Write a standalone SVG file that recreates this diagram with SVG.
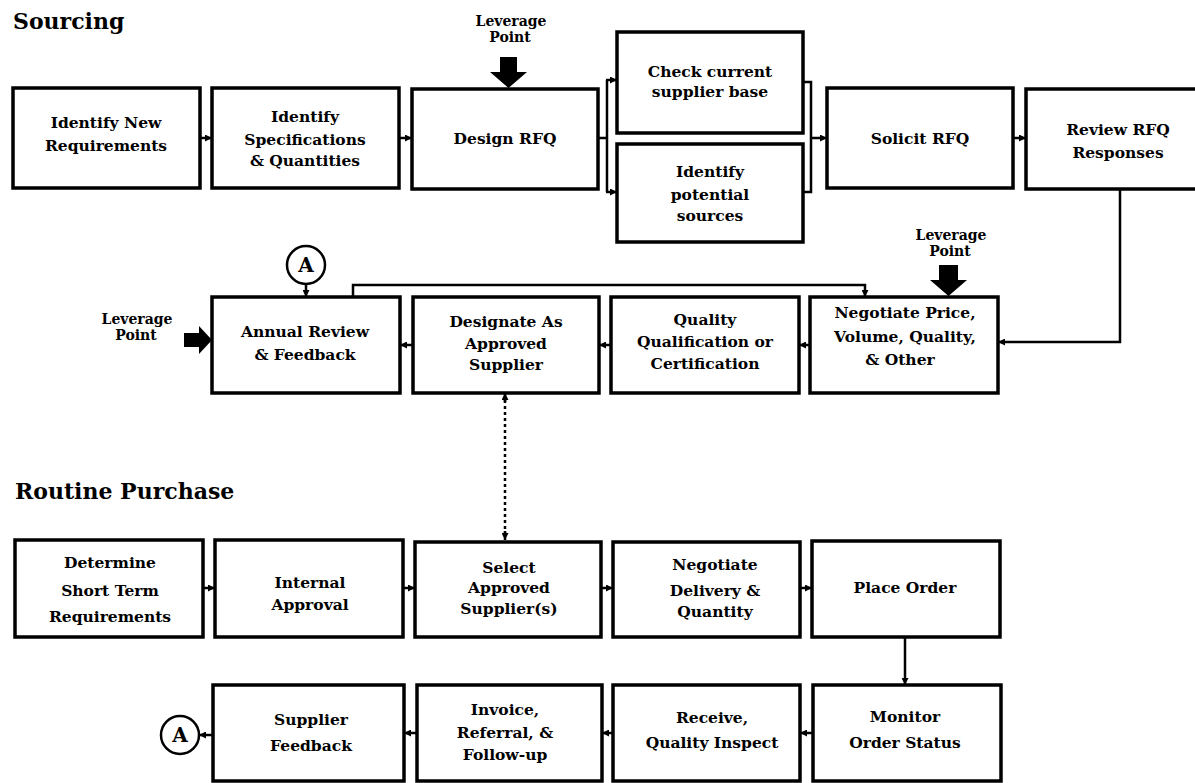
<svg xmlns="http://www.w3.org/2000/svg" width="1195" height="783" viewBox="0 0 1195 783">
<style>
.box{fill:#fff;stroke:#000;stroke-width:3.5}
.t{font-family:"DejaVu Serif",serif;font-weight:bold;font-size:15.5px;text-anchor:middle;fill:#000}
.lv{font-family:"DejaVu Serif",serif;font-weight:bold;font-size:14px;text-anchor:middle;fill:#000}
.h{font-family:"DejaVu Serif",serif;font-weight:bold;font-size:22px;fill:#000}
.c{stroke:#000;stroke-width:2.5;fill:none}
.d{stroke:#000;stroke-width:2.5;fill:none;stroke-dasharray:3 3}
.ci{fill:#fff;stroke:#000;stroke-width:2.5}
.ca{font-family:"DejaVu Serif",serif;font-weight:bold;font-size:20px;text-anchor:middle;fill:#000}
.lev{fill:#000}
</style>
<defs>
<marker id="ah" markerUnits="userSpaceOnUse" markerWidth="7" markerHeight="7" refX="7" refY="3.5" orient="auto">
<path d="M0,0 L7,3.5 L0,7 z" fill="#000"/>
</marker>
</defs>
<rect width="1195" height="783" fill="#fff"/>
<text class="h" x="13" y="29">Sourcing</text>
<text class="h" x="15" y="499">Routine Purchase</text>

<g id="connectors">
<path class="c" d="M200,138 H212" marker-end="url(#ah)"/>
<path class="c" d="M399,138 H412" marker-end="url(#ah)"/>
<path class="c" d="M598,138 H607 M607,80 V192"/>
<path class="c" d="M606,80 H617" marker-end="url(#ah)"/>
<path class="c" d="M606,192 H617" marker-end="url(#ah)"/>
<path class="c" d="M803,82 H811 V192 H803"/>
<path class="c" d="M811,138 H827" marker-end="url(#ah)"/>
<path class="c" d="M1013,138 H1026" marker-end="url(#ah)"/>
<path class="c" d="M1120,189 V342 H998" marker-end="url(#ah)"/>
<path class="c" d="M810,345 H799" marker-end="url(#ah)"/>
<path class="c" d="M611,345 H599" marker-end="url(#ah)"/>
<path class="c" d="M413,345 H400" marker-end="url(#ah)"/>
<path class="c" d="M353,297 V285 H865 V297" marker-end="url(#ah)"/>
<path class="c" d="M306,284 V297" marker-end="url(#ah)"/>
<path class="d" d="M505,400 V533"/>
<path class="c" d="M505,402 V393" marker-end="url(#ah)"/>
<path class="c" d="M505,531 V540" marker-end="url(#ah)"/>
<path class="c" d="M203,588 H215" marker-end="url(#ah)"/>
<path class="c" d="M403,588 H415" marker-end="url(#ah)"/>
<path class="c" d="M601,588 H613" marker-end="url(#ah)"/>
<path class="c" d="M800,588 H812" marker-end="url(#ah)"/>
<path class="c" d="M905,637 V685" marker-end="url(#ah)"/>
<path class="c" d="M813,733 H800" marker-end="url(#ah)"/>
<path class="c" d="M613,733 H602" marker-end="url(#ah)"/>
<path class="c" d="M417,733 H404" marker-end="url(#ah)"/>
<path class="c" d="M213,735 H199" marker-end="url(#ah)"/>
</g>

<g id="lev-design">
<text class="lv" x="511" y="26">Leverage</text>
<text class="lv" x="510" y="42">Point</text>
<path class="lev" d="M500,57 H517 V72 H527 L508.5,88 L490,72 H500 Z"/>
</g>
<g id="lev-negotiate">
<text class="lv" x="951" y="240">Leverage</text>
<text class="lv" x="950" y="256">Point</text>
<path class="lev" d="M939,265 H958 V280 H967 L948.5,296 L930,280 H939 Z"/>
</g>
<g id="lev-annual">
<text class="lv" x="137" y="324">Leverage</text>
<text class="lv" x="136" y="340">Point</text>
<path class="lev" d="M184,333 H199 V326 L212,340 L199,354 V347 H184 Z"/>
</g>

<g id="n1"><rect class="box" x="13" y="88" width="187" height="100"/>
<text class="t" x="106" y="128">Identify New</text><text class="t" x="106" y="151">Requirements</text></g>
<g id="n2"><rect class="box" x="212" y="88" width="187" height="100"/>
<text class="t" x="305" y="122">Identify</text><text class="t" x="305" y="145">Specifications</text><text class="t" x="305" y="166">&amp; Quantities</text></g>
<g id="n3"><rect class="box" x="412" y="89" width="186" height="100"/>
<text class="t" x="505" y="144">Design RFQ</text></g>
<g id="n4"><rect class="box" x="617" y="32" width="186" height="101"/>
<text class="t" x="710" y="77">Check current</text><text class="t" x="710" y="97">supplier base</text></g>
<g id="n5"><rect class="box" x="617" y="144" width="186" height="98"/>
<text class="t" x="710" y="177">Identify</text><text class="t" x="710" y="200">potential</text><text class="t" x="710" y="221">sources</text></g>
<g id="n6"><rect class="box" x="827" y="88" width="186" height="100"/>
<text class="t" x="920" y="144">Solicit RFQ</text></g>
<g id="n7"><rect class="box" x="1026" y="89" width="188" height="100"/>
<text class="t" x="1118" y="135">Review RFQ</text><text class="t" x="1118" y="158">Responses</text></g>

<g id="n8"><rect class="box" x="212" y="297" width="188" height="96"/>
<text class="t" x="305" y="337">Annual Review</text><text class="t" x="305" y="360">&amp; Feedback</text></g>
<g id="n9"><rect class="box" x="413" y="297" width="186" height="96"/>
<text class="t" x="506" y="327">Designate As</text><text class="t" x="506" y="349">Approved</text><text class="t" x="506" y="370">Supplier</text></g>
<g id="n10"><rect class="box" x="611" y="297" width="188" height="96"/>
<text class="t" x="705" y="325">Quality</text><text class="t" x="705" y="347">Qualification or</text><text class="t" x="705" y="369">Certification</text></g>
<g id="n11"><rect class="box" x="810" y="297" width="188" height="96"/>
<text class="t" x="905" y="318">Negotiate Price,</text><text class="t" x="905" y="342">Volume, Quality,</text><text class="t" x="900" y="365">&amp; Other</text></g>
<g id="circA1"><circle class="ci" cx="306" cy="265" r="19"/><text class="ca" x="306" y="272">A</text></g>

<g id="n12"><rect class="box" x="15" y="540" width="188" height="97"/>
<text class="t" x="110" y="568">Determine</text><text class="t" x="110" y="596">Short Term</text><text class="t" x="110" y="622">Requirements</text></g>
<g id="n13"><rect class="box" x="215" y="540" width="188" height="97"/>
<text class="t" x="310" y="588">Internal</text><text class="t" x="310" y="610">Approval</text></g>
<g id="n14"><rect class="box" x="415" y="542" width="186" height="95"/>
<text class="t" x="509" y="573">Select</text><text class="t" x="509" y="593">Approved</text><text class="t" x="509" y="614">Supplier(s)</text></g>
<g id="n15"><rect class="box" x="613" y="542" width="187" height="95"/>
<text class="t" x="715" y="570">Negotiate</text><text class="t" x="715" y="596">Delivery &amp;</text><text class="t" x="715" y="617">Quantity</text></g>
<g id="n16"><rect class="box" x="812" y="541" width="188" height="96"/>
<text class="t" x="905" y="593">Place Order</text></g>

<g id="n17"><rect class="box" x="213" y="685" width="191" height="96"/>
<text class="t" x="311" y="725">Supplier</text><text class="t" x="311" y="751">Feedback</text></g>
<g id="n18"><rect class="box" x="417" y="685" width="185" height="96"/>
<text class="t" x="505" y="715">Invoice,</text><text class="t" x="505" y="738">Referral, &amp;</text><text class="t" x="505" y="760">Follow-up</text></g>
<g id="n19"><rect class="box" x="613" y="685" width="187" height="96"/>
<text class="t" x="712" y="723">Receive,</text><text class="t" x="712" y="748">Quality Inspect</text></g>
<g id="n20"><rect class="box" x="813" y="685" width="188" height="96"/>
<text class="t" x="905" y="722">Monitor</text><text class="t" x="905" y="748">Order Status</text></g>
<g id="circA2"><circle class="ci" cx="180" cy="735" r="19"/><text class="ca" x="180" y="742">A</text></g>
</svg>
